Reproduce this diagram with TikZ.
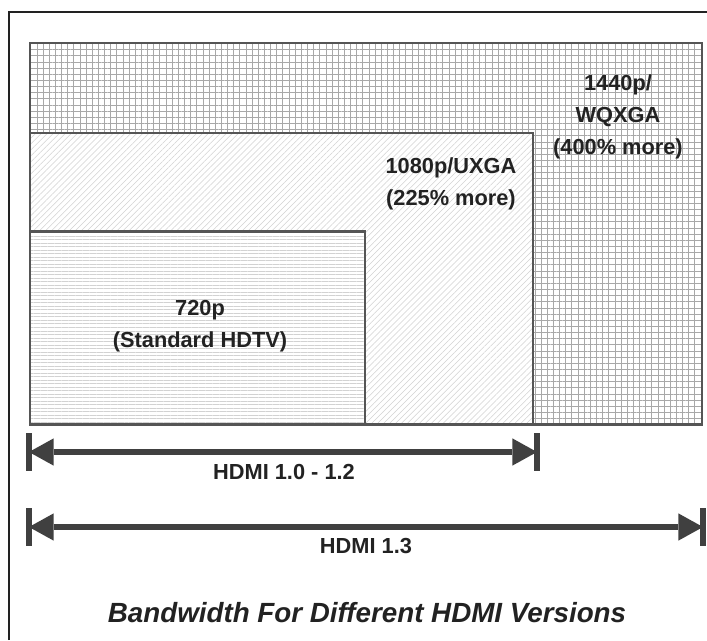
\documentclass[tikz,border=0pt]{standalone}
\usepackage{fontspec}
\setmainfont{Liberation Sans}
\usetikzlibrary{arrows.meta,patterns.meta}
\definecolor{ChartInk}{HTML}{222222}
\definecolor{ChartEdge}{HTML}{555555}
\definecolor{ChartArrow}{HTML}{404040}
\definecolor{ChartGrid}{HTML}{A8A8A8}
\definecolor{ChartHatch}{HTML}{D2D2D2}

\begin{document}
\begin{tikzpicture}[x=0.02cm, y=-0.02cm,
    font=\fontsize{12.4}{18.2}\selectfont\bfseries, text=ChartInk,
    resbox/.style={draw=ChartEdge, line width=1.7pt, preaction={fill=white}},
    spanbar/.style={ChartArrow, line width=3.6pt},
    spanarrow/.style={ChartArrow, line width=2.9pt,
      {Triangle[length=14pt, width=15.5pt, line width=0pt]}-{Triangle[length=14pt, width=15.5pt, line width=0pt]}}]
  \useasboundingbox (0,0) rectangle (707,640);
  % outer frame, runs off the page right and below
  \draw[ChartInk, line width=1.1pt] (9,640) -- (9,12) -- (707,12);
  % 1440p
  \draw[resbox, pattern={Hatch[angle=0, distance=3.5pt, line width=0.45pt]}, pattern color=ChartGrid]
    (30,43) rectangle (702,424);
  % 1080p
  \draw[resbox, pattern={Lines[angle=45, distance=2.4pt, line width=0.3pt]}, pattern color=ChartHatch]
    (30,133) rectangle (533,424);
  % 720p
  \draw[resbox, pattern={Lines[angle=0, distance=2pt, line width=0.3pt]}, pattern color=ChartHatch]
    (30,231) rectangle (365,424);
  \node[align=center] (wqxga) at (618,117) {1440p/\\WQXGA\\(400\% more)};
  \node[align=center] (uxga) at (451,184) {1080p/UXGA\\(225\% more)};
  \node[align=center] (hdtv) at (200,326) {720p\\(Standard HDTV)};
  % HDMI 1.0 - 1.2 span
  \coordinate (s1l) at (29,452);
  \coordinate (s1r) at (537,452);
  \draw[spanbar] (s1l) ++(0,-19) -- ++(0,38);
  \draw[spanbar] (s1r) ++(0,-19) -- ++(0,38);
  \draw[spanarrow] (s1l) -- (s1r);
  \node (v12) at (284,472) {HDMI 1.0 - 1.2};
  % HDMI 1.3 span
  \coordinate (s2l) at (29,527);
  \coordinate (s2r) at (703,527);
  \draw[spanbar] (s2l) ++(0,-19) -- ++(0,38);
  \draw[spanbar] (s2r) ++(0,-19) -- ++(0,38);
  \draw[spanarrow] (s2l) -- (s2r);
  \node (v13) at (366,546) {HDMI 1.3};
  \node[font=\fontsize{15.8}{18}\selectfont\bfseries\itshape] (title) at (367,613)
    {Bandwidth For Different HDMI Versions};
\end{tikzpicture}
\end{document}
